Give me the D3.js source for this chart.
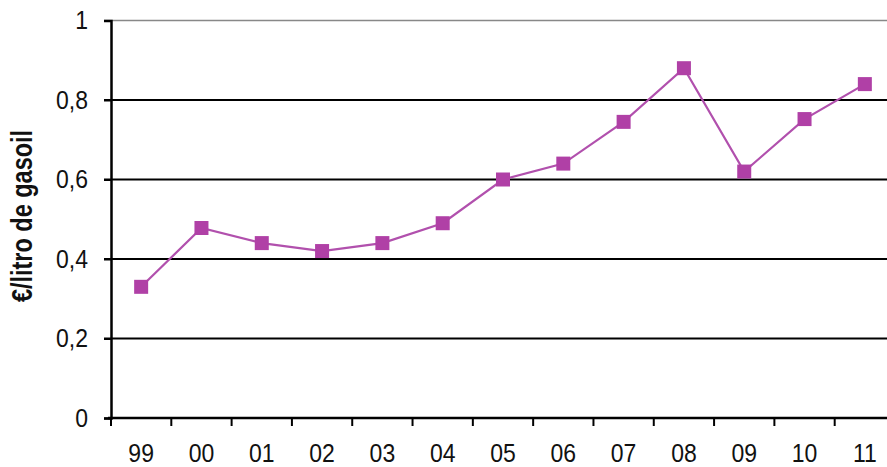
<!DOCTYPE html>
<html>
<head>
<meta charset="utf-8">
<script src="https://cdn.jsdelivr.net/npm/d3@7"></script>
<style>
body{margin:0;background:#fff;}
svg{display:block;font-family:"Liberation Sans",Arial,sans-serif;}
</style>
</head>
<body>
<div id="chart"></div>
<script>
// data
var years = ["99","00","01","02","03","04","05","06","07","08","09","10","11"];
var prices = [0.33,0.478,0.44,0.42,0.44,0.49,0.60,0.64,0.745,0.88,0.62,0.752,0.84];
var yTicks = [0,0.2,0.4,0.6,0.8,1];

var svg = d3.select("#chart").append("svg").attr("width",887).attr("height",467);

var x = d3.scaleBand().domain(years).range([111,895]);
var y = d3.scaleLinear().domain([0,1]).range([418,20.5]);

var fmt = function(d){ return String(d).replace(".",","); };

// top border line (value 1)
svg.append("line")
    .attr("x1",104).attr("x2",887)
    .attr("y1",y(1)).attr("y2",y(1))
    .attr("stroke","#888").attr("stroke-width",1.5);

// gridlines
svg.append("g").selectAll("line").data([0.2,0.4,0.6,0.8]).enter().append("line")
    .attr("x1",104).attr("x2",887)
    .attr("y1",function(d){return y(d);}).attr("y2",function(d){return y(d);})
    .attr("stroke","#000").attr("stroke-width",2);

// y axis
var yAxis = svg.append("g").attr("transform","translate(111,0)")
    .call(d3.axisLeft(y).tickValues(yTicks).tickFormat(fmt).tickSize(7).tickPadding(16));
yAxis.select(".domain").attr("stroke-width",2.5);
yAxis.selectAll(".tick line").attr("stroke-width",2);
yAxis.selectAll("text").attr("font-size",23).attr("fill","#111")
    .attr("transform","scale(1,1.12)");

// x axis with ticks at category boundaries
var bounds = years.map(function(d){return x(d);}).concat([x.range()[1]]);
svg.append("line").attr("x1",108).attr("x2",887).attr("y1",y(0)).attr("y2",y(0))
    .attr("stroke","#000").attr("stroke-width",2.5);
svg.append("g").selectAll("line").data(bounds).enter().append("line")
    .attr("x1",function(d){return d;}).attr("x2",function(d){return d;})
    .attr("y1",y(0)).attr("y2",y(0)+8)
    .attr("stroke","#000").attr("stroke-width",2);
svg.append("g").selectAll("text").data(years).enter().append("text")
    .attr("transform",function(d){return "translate("+(x(d)+x.bandwidth()/2)+",462) scale(1,1.15)";})
    .attr("text-anchor","middle")
    .attr("font-size",23).attr("fill","#111")
    .text(function(d){return d;});

// axis title (condensed bold)
svg.append("text")
    .attr("transform","translate(32,216) rotate(-90) scale(0.81,1)")
    .attr("text-anchor","middle")
    .attr("font-size",29).attr("font-weight","bold").attr("fill","#111")
    .text("€/litro de gasoil");

// series line
var line = d3.line()
    .x(function(d,i){return x(years[i])+x.bandwidth()/2;})
    .y(function(d){return y(d);});
svg.append("path").datum(prices)
    .attr("d",line)
    .attr("fill","none")
    .attr("stroke","#b150ad").attr("stroke-width",2.2);

// markers
svg.append("g").selectAll("rect").data(prices).enter().append("rect")
    .attr("x",function(d,i){return x(years[i])+x.bandwidth()/2-7;})
    .attr("y",function(d){return y(d)-7;})
    .attr("width",14).attr("height",14)
    .attr("fill","#b040a6");
</script>
</body>
</html>
